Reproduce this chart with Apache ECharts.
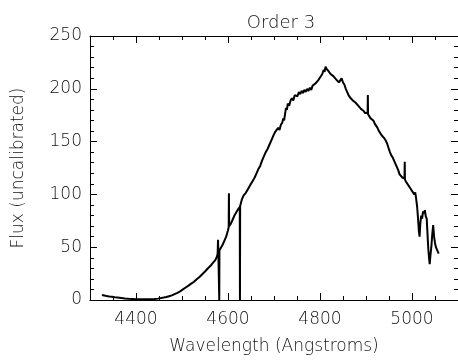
<!DOCTYPE html>
<html>
<head>
<meta charset="utf-8">
<script src="https://cdn.jsdelivr.net/npm/echarts@6/dist/echarts.min.js"></script>
<style>html,body{margin:0;padding:0;background:#fff}#c{width:458px;height:362px}</style>
</head>
<body>
<div id="c"></div>
<script>
var titleText = 'Order 3';
var xName = 'Wavelength (Angstroms)';
var yName = 'Flux (uncalibrated)';
var xMajorTicks = [4400, 4600, 4800, 5000];

var wavelength = [
4326,4330,4336,4342,4348,4354,4360,4368,4376,4384,4392,4400,4410,4420,4430,4440,4448,4455,4460,4466,
4472,4478,4484,4490,4496,4502,4508,4514,4520,4526,4532,4538,4544,4550,4556,4562,4568,4572,4576,4577.5,
4578.3,4579,4580.6,4581,4581.4,4584,4588,4592,4596,4600,4601.5,4602,4602.5,4606,4610,4614,4618,4622,4625.6,4626,
4626.4,4630,4634,4638,4642,4646,4650,4654,4658,4662,4666,4670,4674,4678,4682,4686,4690,4694,4698,4700,
4703,4706,4709,4712,4715,4718,4720,4722,4724,4726,4728,4730,4733,4736,4739,4742,4745,4748,4751,4754,
4757,4760,4763,4766,4769,4772,4775,4778,4781,4784,4787,4790,4793,4796,4799,4802,4805,4808,4810,4812,
4814,4816,4818,4820,4823,4826,4829,4832,4835,4838,4841,4844,4847,4850,4853,4856,4859,4862,4865,4868,
4871,4874,4877,4880,4883,4886,4889,4892,4895,4898,4901,4903.5,4904,4904.5,4907,4910,4913,4916,4919,4922,
4925,4928,4931,4934,4937,4940,4943,4946,4949,4952,4955,4958,4961,4964,4967,4970,4973,4976,4979,4982,
4983.7,4984.2,4984.7,4987,4990,4993,4996,4999,5002,5005,5007,5009,5011,5013,5015,5016.5,5018,5020,5022,5024,
5026,5028,5030,5032,5034,5035.5,5037,5038.5,5040,5042,5044,5046,5048,5050,5052,5054,5056,5058
];
var flux = [
4.8,4.2,3.8,3.3,3.0,2.6,2.3,1.9,1.5,1.2,1.0,0.8,0.7,0.6,0.7,0.9,1.3,1.9,2.3,2.8,
3.6,4.4,5.6,6.8,8.2,10.0,11.8,13.6,15.5,17.2,19.6,21.8,24.4,27.0,29.8,32.4,35.6,37.5,41.0,44,
57,46,46,0,47,49,52,56,60,66,69,101,70,72,76,80,83,86,88,0,
89,95,99,101,104,107,110,113,116,120,124,127,132,136,140,143,147,151,155,157,
159.5,158,163,161,166,168,172,170,176,182,180,186,184,189,191,189,194,195,193,197,
195,198,196,199,197,200,198,201,199,203,202,205,204,208,210,209,214,218,216,221,
219,220,217,218,214,215,212,213,209,210,206,208,210,206,204,200,197,194,192,193,
189,190,187,186,184,185,181,182,179,177,176,177,194,176,175,172,173,170,167,168,
163,160,158,156,155,153,151,148,144,140,137,135,132,129,126,123,119,118,116,117,
115,131,114,112,110,109,106,104,103,100,102,96,89,78,65,60,72,80,77,84,
82,85,79,77,60,48,40,34,42,50,62,71,60,54,50,48,46,44
];

var pts = wavelength.map(function (w, i) { return [w, flux[i]]; });

var txt = '#111';
var fam = '"DejaVu Sans", sans-serif';
var axLine = { show: true, lineStyle: { color: '#000', width: 1 } };
function plain(v) { return String(v); }

function xAx(pos, major, withLabels) {
  var a = {
    type: 'value', position: pos, min: 4300, max: 5100, interval: 50,
    axisLine: major ? { show: false } : axLine,
    splitLine: { show: false },
    axisTick: major
      ? { show: true, inside: true, length: 7, customValues: xMajorTicks, lineStyle: { color: '#000' } }
      : { show: true, inside: true, length: 4, lineStyle: { color: '#000' } },
    axisLabel: withLabels
      ? { show: true, customValues: xMajorTicks, formatter: plain, margin: 11, color: txt, fontFamily: fam, fontSize: 17, fontWeight: 300 }
      : { show: false }
  };
  if (withLabels) {
    a.name = xName; a.nameLocation = 'middle'; a.nameGap = 38;
    a.nameTextStyle = { color: txt, fontFamily: fam, fontSize: 17, fontWeight: 300 };
  }
  return a;
}

function yAx(pos, withLabels) {
  var a = {
    type: 'value', position: pos, min: 0, max: 250, interval: 50,
    axisLine: axLine,
    splitLine: { show: false },
    axisTick: { show: true, inside: true, length: 7, lineStyle: { color: '#000' } },
    minorTick: { show: true, splitNumber: 5, length: 4, lineStyle: { color: '#000' } },
    minorSplitLine: { show: false },
    axisLabel: withLabels
      ? { show: true, formatter: plain, margin: 8, color: txt, fontFamily: fam, fontSize: 17, fontWeight: 300 }
      : { show: false }
  };
  if (withLabels) {
    a.name = yName; a.nameLocation = 'middle'; a.nameGap = 63;
    a.nameTextStyle = { color: txt, fontFamily: fam, fontSize: 17, fontWeight: 300 };
  }
  return a;
}

var chart = echarts.init(document.getElementById('c'), null, { renderer: 'canvas' });
chart.setOption({
  animation: false,
  backgroundColor: '#fff',
  title: {
    text: titleText, left: 276, top: 9, textAlign: 'center',
    textStyle: { color: txt, fontFamily: fam, fontSize: 18, fontWeight: 300 }
  },
  grid: { left: 90, right: -5, top: 36, bottom: 62, containLabel: false },
  xAxis: [xAx('bottom', false, true), xAx('bottom', true, false), xAx('top', false, false), xAx('top', true, false)],
  yAxis: [yAx('left', true), yAx('right', false)],
  series: [{
    type: 'line', xAxisIndex: 0, yAxisIndex: 0, data: pts,
    showSymbol: false, symbol: 'none',
    lineStyle: { color: '#000', width: 2 }
  }]
});
</script>
</body>
</html>
